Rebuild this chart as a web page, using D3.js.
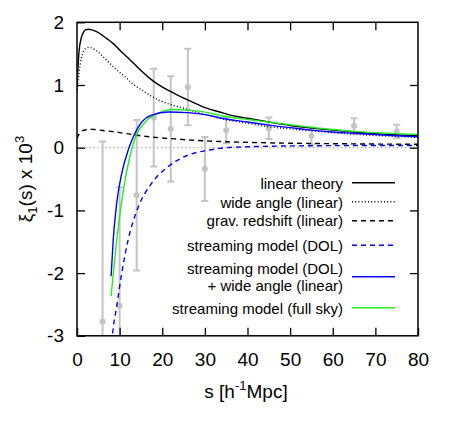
<!DOCTYPE html>
<html><head><meta charset="utf-8">
<script src="https://cdn.jsdelivr.net/npm/d3@7"></script>
<style>
body{margin:0;background:#fff}
text{font-family:"Liberation Sans",Arial,Helvetica,sans-serif;fill:#000}
</style>
</head><body>
<svg id="chart" width="455" height="428"></svg>
<script>
// ---------- data ----------
const xTickValues = [0,10,20,30,40,50,60,70,80];
const yTickValues = [-3,-2,-1,0,1,2];

// measured points
const dataS   = [6,10,14,18,22,26,30,35,45,55,65,75];
const dataVal = [-2.77,-2.52,-0.76,0.48,0.30,0.97,-0.34,0.28,0.31,0.19,0.35,0.26];
const dataErr = [2.87,1.89,1.20,0.78,0.84,0.61,0.51,0.21,0.17,0.135,0.12,0.105];

// linear theory
const linS   = [0,0.5,1,1.5,2,2.7,3.5,4.6,6,7,8.5,10,12,13.2,15,17,19,21,23,25.7,28,30.4,33.5,36,40,45,50,55,60,65,70,75,80];
const linVal = [1.0,1.55,1.75,1.84,1.88,1.89,1.88,1.85,1.79,1.74,1.66,1.56,1.43,1.35,1.23,1.11,1.01,0.93,0.86,0.77,0.70,0.63,0.57,0.52,0.47,0.41,0.355,0.315,0.28,0.25,0.225,0.205,0.19];

// wide angle (linear)
const wideS   = [0,0.5,1,1.5,2,2.7,3.5,4.5,6,7.3,9,11.3,13,15.2,17,19.1,21,23,26,30,34,40,45,50,55,60,65,70,75,80];
const wideVal = [0.87,1.2,1.42,1.53,1.58,1.6,1.59,1.55,1.46,1.37,1.26,1.13,1.02,0.92,0.84,0.76,0.71,0.67,0.61,0.53,0.46,0.39,0.335,0.30,0.27,0.24,0.215,0.195,0.18,0.165];

// grav. redshift (linear)
const gravS   = [0,0.5,1,2,3,4,6,8,11,15,19,23,27,31,35,40,45,50,55,60,65,70,75,80];
const gravVal = [0.15,0.22,0.26,0.285,0.295,0.29,0.275,0.26,0.23,0.19,0.16,0.14,0.12,0.105,0.095,0.085,0.078,0.072,0.068,0.064,0.061,0.058,0.056,0.054];

// streaming model (DOL)
const dolS   = [8.0,8.3,9.3,10.5,12,14.4,17.5,21.4,26,30.8,35,40,50,60,70,80];
const dolVal = [-3.25,-3.0,-2.54,-2.0,-1.47,-0.94,-0.57,-0.30,-0.12,-0.04,0.0,0.015,0.028,0.033,0.035,0.035];

// streaming model (DOL) + wide angle (linear)
const dolWideS   = [8.0,8.5,9.3,10.5,12,13.2,15.2,17.5,21.4,26,30.8,34,40,45,50,55,60,65,70,75,80];
const dolWideVal = [-2.05,-1.47,-0.89,-0.41,-0.04,0.17,0.41,0.52,0.57,0.56,0.52,0.47,0.41,0.36,0.32,0.28,0.25,0.23,0.21,0.19,0.175];

// streaming model (full sky)
const fullS   = [8.0,8.75,9.7,10.9,12.4,13.6,16,19.1,22.2,26,30.8,34,40,45,50,55,60,65,70,75,80];
const fullVal = [-2.37,-1.84,-1.26,-0.67,-0.14,0.15,0.41,0.55,0.61,0.60,0.56,0.51,0.45,0.41,0.365,0.325,0.29,0.26,0.24,0.225,0.21];

const legendLabels = [["linear theory"],["wide angle (linear)"],["grav. redshift (linear)"],["streaming model (DOL)"],["streaming model (DOL)","+ wide angle (linear)"],["streaming model (full sky)"]];

// ---------- layout ----------
const svg = d3.select("#chart");
const L=77, R=418, T=22.3, B=335.8;
const x = d3.scaleLinear().domain([0,80]).range([L,R]);
const y = d3.scaleLinear().domain([-3,2]).range([B,T]);

svg.append("defs").append("clipPath").attr("id","clip")
  .append("rect").attr("x",L).attr("y",T).attr("width",R-L).attr("height",B-T);

// zero line
svg.append("line").attr("x1",L).attr("x2",R).attr("y1",y(0)).attr("y2",y(0))
  .attr("stroke","#b4b4b4").attr("stroke-width",1.2).attr("stroke-dasharray","1.5,2.5");

const plot = svg.append("g").attr("clip-path","url(#clip)");

// error bars and points
const pts = dataS.map((s,i)=>({s, v:dataVal[i], e:dataErr[i]}));
const grey = "#c4c4c4";
const eb = plot.append("g");
pts.forEach(p=>{
  eb.append("line").attr("x1",x(p.s)).attr("x2",x(p.s)).attr("y1",y(p.v-p.e)).attr("y2",y(p.v+p.e))
    .attr("stroke",grey).attr("stroke-width",2);
  [p.v-p.e,p.v+p.e].forEach(v=>{
    eb.append("line").attr("x1",x(p.s)-3.5).attr("x2",x(p.s)+3.5).attr("y1",y(v)).attr("y2",y(v))
      .attr("stroke",grey).attr("stroke-width",2);
  });
  eb.append("circle").attr("cx",x(p.s)).attr("cy",y(p.v)).attr("r",3).attr("fill",grey);
});

const line = d3.line().x(d=>x(d[0])).y(d=>y(d[1])).curve(d3.curveMonotoneX);
const series = [
  {s:gravS, v:gravVal, color:"#000", dash:"5,4"},
  {s:wideS, v:wideVal, color:"#000", dash:"1,2.2"},
  {s:linS, v:linVal, color:"#000", dash:null},
  {s:dolS, v:dolVal, color:"#0000ff", dash:"5,4"},
  {s:dolWideS, v:dolWideVal, color:"#0000ff", dash:null},
  {s:fullS, v:fullVal, color:"#22ee22", dash:null}
];
const legendStyles = [series[2],series[1],series[0],series[3],series[4],series[5]];
// draw full sky then DOL+wide on top
[series[0],series[1],series[2],series[3],series[5],series[4]].forEach(sr=>{
  plot.append("path").datum(sr.s.map((s,i)=>[s,sr.v[i]]))
    .attr("d",line).attr("fill","none").attr("stroke",sr.color)
    .attr("stroke-width",1.4).attr("stroke-dasharray",sr.dash);
});

// axes
const tickLen = 8;
const fs = 19;
const ax = svg.append("g").attr("transform",`translate(0,${B})`)
  .call(d3.axisBottom(x).tickValues(xTickValues).tickSize(-tickLen).tickPadding(17).tickFormat(d3.format("d")));
const ay = svg.append("g").attr("transform",`translate(${L},0)`)
  .call(d3.axisLeft(y).tickValues(yTickValues).tickSize(-tickLen).tickPadding(13).tickFormat(d3.format("d")));
const axT = svg.append("g").attr("transform",`translate(0,${T})`)
  .call(d3.axisTop(x).tickValues(xTickValues.slice(1,-1)).tickSize(-tickLen).tickFormat(""));
const ayR = svg.append("g").attr("transform",`translate(${R},0)`)
  .call(d3.axisRight(y).tickValues(yTickValues.slice(1,-1)).tickSize(-tickLen).tickFormat(""));
[ax,ay,axT,ayR].forEach(g=>{
  g.select(".domain").remove();
  g.selectAll(".tick line").attr("stroke","#000").attr("stroke-width",1.3);
  g.selectAll(".tick text").attr("font-size",fs).attr("font-family",'"Liberation Sans",Arial,sans-serif').attr("fill","#000");
});
ay.selectAll(".tick text").text(d=> d<0 ? "-"+Math.abs(d) : d);

// frame
svg.append("rect").attr("x",L).attr("y",T).attr("width",R-L).attr("height",B-T)
  .attr("fill","none").attr("stroke","#000").attr("stroke-width",1.5);

// axis titles
const xt = svg.append("text").attr("x",246).attr("y",398).attr("text-anchor","middle").attr("font-size",fs);
xt.append("tspan").text("s [h");
xt.append("tspan").attr("font-size",13).attr("dy",-8).text("-1");
xt.append("tspan").attr("dy",8).text("Mpc]");

const yt = svg.append("text").attr("transform","translate(32,179) rotate(-90)").attr("text-anchor","middle").attr("font-size",fs);
yt.append("tspan").text("ξ");
yt.append("tspan").attr("font-size",13).attr("dy",5).text("1");
yt.append("tspan").attr("dy",-5).text("(s) x 10");
yt.append("tspan").attr("font-size",13).attr("dy",-8).text("3");

// legend
const lg = svg.append("g");
const rowsY = [183.3,202.3,221,246,[268.3,285.7],308.3];
const lineY = [182.7,201.7,220.7,245.3,276.7,307.7];
legendLabels.forEach((lab,i)=>{
  const ys = Array.isArray(rowsY[i]) ? rowsY[i] : [rowsY[i]];
  lab.forEach((t,j)=>{
    lg.append("text").attr("x",343).attr("y",ys[j]).attr("dy","0.35em")
      .attr("text-anchor","end").attr("font-size",15).text(t);
  });
  const st = legendStyles[i];
  lg.append("line").attr("x1",352).attr("x2",395).attr("y1",lineY[i]).attr("y2",lineY[i])
    .attr("stroke",st.color).attr("stroke-width",1.4).attr("stroke-dasharray",st.dash);
});
</script>
</body></html>
